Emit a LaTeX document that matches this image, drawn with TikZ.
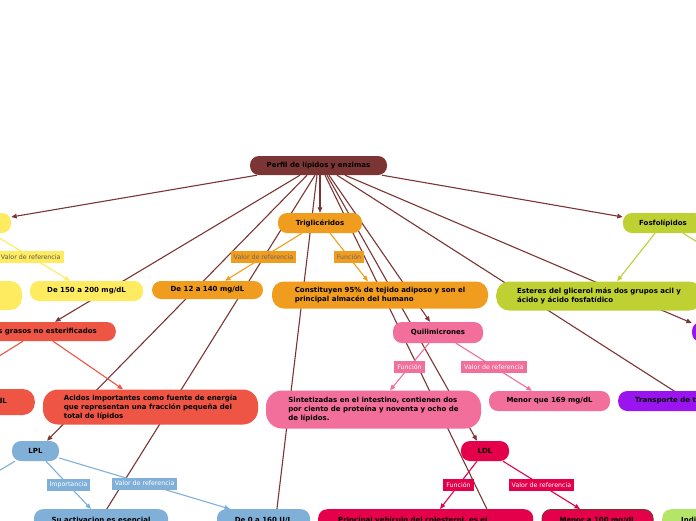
\documentclass[tikz,border=0pt]{standalone}
\usepackage{fontspec}
\setmainfont{DejaVu Sans}
\usetikzlibrary{arrows.meta}
\definecolor{cMar}{HTML}{7B3535}
\definecolor{cOra}{HTML}{F09D1F}
\definecolor{cYel}{HTML}{FFEB5F}
\definecolor{cGrn}{HTML}{BFD032}
\definecolor{cRed}{HTML}{EE5545}
\definecolor{cPnk}{HTML}{F26E9B}
\definecolor{cPur}{HTML}{9A14F0}
\definecolor{cBlu}{HTML}{80B0D8}
\definecolor{cCrm}{HTML}{E4004B}
\definecolor{cLgr}{HTML}{B4E468}
\pgfdeclarelayer{bg}
\pgfsetlayers{bg,main}
\tikzset{
  box/.style={rounded corners=9pt, inner sep=0pt, font=\fontsize{7}{9}\selectfont\bfseries, text=black},
  lab/.style={inner xsep=3pt, inner ysep=0pt, minimum height=12pt, font=\fontsize{6.3}{7}\selectfont},
  tip/.style={-{Triangle[length=5.5pt,width=4.5pt]}},
  rootln/.style={draw=cMar, line width=1.1pt},
  kid/.style={line width=1.1pt},
}
\begin{document}
\begin{tikzpicture}[x=1pt,y=-1pt]
\useasboundingbox (0,0) rectangle (696,520);
\clip (0,0) rectangle (696,520);

% nodes
\node[box, fill=cMar, minimum width=137pt, minimum height=19pt] (root) at (318.5,165.5) {Perfil de lípidos y enzimas};
\node[box, fill=cOra, minimum width=84pt, minimum height=20pt] (trig) at (320,223) {Triglicéridos};
\node[box, fill=cGrn, minimum width=80pt, minimum height=20pt] (fosfo) at (663,223) {Fosfolípidos};
\node[box, fill=cYel, minimum width=52pt, minimum height=20pt] (yelL) at (-15,223) {};
\node[box, fill=cYel, minimum width=113pt, minimum height=20pt] (yel150) at (86.5,291) {De 150 a 200 mg/dL};
\node[box, fill=cYel, minimum width=104pt, minimum height=29pt, rounded corners=12pt] (yelL2) at (-30,295.5) {};
\node[box, fill=cOra, minimum width=111pt, minimum height=18pt] (org12) at (207.5,290) {De 12 a 140 mg/dL};
\node[box, fill=cOra, minimum width=216pt, minimum height=27pt, align=left, rounded corners=12pt] (org95) at (380,295) {Constituyen 95\% de tejido adiposo y son el\\principal almacén del humano};
\node[box, fill=cGrn, anchor=west, inner xsep=21pt, minimum height=29pt, align=left, rounded corners=13pt] (grn) at (496,296) {Esteres del glicerol más dos grupos acil y\\ácido y ácido fosfatídico};
\node[box, fill=cRed, anchor=east, inner xsep=19pt, minimum height=19pt] (redG) at (116,331.5) {Ácidos grasos no esterificados};
\node[box, fill=cPnk, minimum width=90pt, minimum height=21pt] (quil) at (438,332.5) {Quilimicrones};
\node[box, fill=cPur, minimum width=48pt, minimum height=20pt] (purp) at (716,332) {};
\node[box, fill=cRed, anchor=east, inner xsep=28pt, minimum height=26pt, rounded corners=12pt] (redL2) at (35,402) {mg/dL};
\node[box, fill=cRed, minimum width=215pt, minimum height=35pt, align=left, rounded corners=15pt] (acid) at (150.5,407) {Acidos importantes como fuente de energía\\que representan una fracción pequeña del\\total de lípidos};
\node[box, fill=cPnk, minimum width=215pt, minimum height=38pt, align=left, rounded corners=16pt] (sint) at (373.5,409.5) {Sintetizadas en el intestino, contienen dos\\por ciento de proteína y noventa y ocho de\\de lípidos.};
\node[box, fill=cPnk, minimum width=121pt, minimum height=20pt] (men169) at (549.5,401) {Menor que 169 mg/dL};
\node[box, fill=cPur, anchor=west, inner xsep=17pt, minimum height=20pt] (transp) at (618,401) {Transporte de t};
\node[box, fill=cBlu, minimum width=47pt, minimum height=20pt] (LPL) at (35.5,451) {LPL};
\node[box, fill=cCrm, minimum width=48pt, minimum height=20pt] (LDL) at (485,451) {LDL};
\node[box, fill=cBlu, anchor=north, minimum width=134pt, inner ysep=8pt] (suact) at (101,509) {Su activacion es esencial};
\node[box, fill=cBlu, anchor=north, minimum width=93pt, inner ysep=8pt] (de0) at (263.5,509) {De 0 a 160 U/L};
\node[box, fill=cCrm, anchor=north west, text width=175pt, inner xsep=20pt, inner ysep=8pt, align=left] (princ) at (318,509) {Principal vehículo del colesterol, es el};
\node[box, fill=cCrm, draw=cMar, line width=1pt, anchor=north, minimum width=111pt, inner ysep=8pt] (men100) at (597.5,509) {Menor a 100 mg/dL};
\node[box, fill=cLgr, anchor=north west, inner xsep=19pt, inner ysep=8pt] (indi) at (662,509) {Indi};

% free ends off the canvas
\coordinate (offB) at (50,600);
\coordinate (offC) at (266,600);
\coordinate (offD) at (531,600);
\coordinate (offE) at (760,446);
\coordinate (offF) at (720,256);
\coordinate (offG) at (-20,368);
\coordinate (offH) at (-20,482);

% root connectors behind the nodes
\begin{pgfonlayer}{bg}
\fill[white] (0,0) rectangle (696,520);
\clip (0,0) rectangle (696,520);
\draw[rootln, tip] ([xshift=-61.5pt]root.south) -- ([yshift=6pt]yelL.east);
\draw[rootln, tip] ([xshift=-18.5pt]root.south) -- ([xshift=-61pt]redG.north east);
\draw[rootln, tip] ([xshift=-11.5pt]root.south) -- ([xshift=11.5pt]LPL.north);
\draw[rootln] ([xshift=-3.5pt]root.south) -- (offB);
\draw[rootln] ([xshift=-1.5pt]root.south) -- (offC);
\draw[rootln, tip] ([xshift=1.5pt]root.south) -- (trig.north);
\draw[rootln] ([xshift=6.5pt]root.south) -- (offD);
\draw[rootln, tip] ([xshift=8.5pt]root.south) -- ([xshift=-8pt]LDL.north);
\draw[rootln, tip] ([xshift=10.5pt]root.south) -- ([xshift=-8pt]quil.north);
\draw[rootln] ([xshift=18.5pt]root.south) -- (offE);
\draw[rootln, tip] ([xshift=26.5pt]root.south) -- ([yshift=9pt]purp.west);
\draw[rootln, tip] ([xshift=63.5pt]root.south) -- ([yshift=6pt]fosfo.west);
\end{pgfonlayer}

% child connectors
\draw[kid, draw=cYel, tip] ([xshift=6.5pt]yelL.south) -- node[lab, fill=cYel, text=black!65] (lY) {Valor de referencia} ([xshift=-16.5pt]yel150.north);
\draw[kid, draw=cOra, tip] ([xshift=-18pt]trig.south) -- node[lab, fill=cOra, text=black!60] (lO1) {Valor de referencia} ([xshift=17.5pt]org12.north);
\draw[kid, draw=cOra, tip] ([xshift=10pt]trig.south) -- node[lab, fill=cOra, text=black!60] (lO2) {Función} ([xshift=-12pt]org95.north);
\draw[kid, draw=cGrn, tip] ([xshift=-8pt]fosfo.south) -- ([xshift=121pt]grn.north west);
\draw[kid, draw=cGrn] ([xshift=20pt]fosfo.south) -- (offF);
\draw[kid, draw=cRed] ([xshift=-93pt]redG.south east) -- (offG);
\draw[kid, draw=cRed, tip] ([xshift=-63pt]redG.south east) -- ([xshift=-27.5pt]acid.north);
\draw[kid, draw=cPnk, tip] ([xshift=-9pt]quil.south) -- node[lab, fill=cPnk, text=white] (lP1) {Función} ([xshift=16.5pt]sint.north);
\draw[kid, draw=cPnk, tip] ([xshift=18pt]quil.south) -- node[lab, fill=cPnk, text=white] (lP2) {Valor de referencia} ([xshift=-17.5pt]men169.north);
\draw[kid, draw=cBlu] ([xshift=-20.5pt]LPL.south) -- (offH);
\draw[kid, draw=cBlu, tip] ([xshift=10.5pt]LPL.south) -- node[lab, fill=cBlu, text=white] (lB1) {Importancia} ([xshift=-10pt]suact.north);
\draw[kid, draw=cBlu, tip] ([yshift=-7pt]LPL.east) -- node[lab, fill=cBlu, text=white] (lB2) {Valor de referencia} ([xshift=-33.5pt]de0.north);
\draw[kid, draw=cCrm, tip] ([xshift=-8pt]LDL.south) -- node[lab, fill=cCrm, text=white] (lC1) {Función} ([xshift=122pt]princ.north west);
\draw[kid, draw=cCrm, tip] ([xshift=18pt]LDL.south) -- node[lab, fill=cCrm, text=white] (lC2) {Valor de referencia} ([xshift=-17.5pt]men100.north);
\end{tikzpicture}
\end{document}
